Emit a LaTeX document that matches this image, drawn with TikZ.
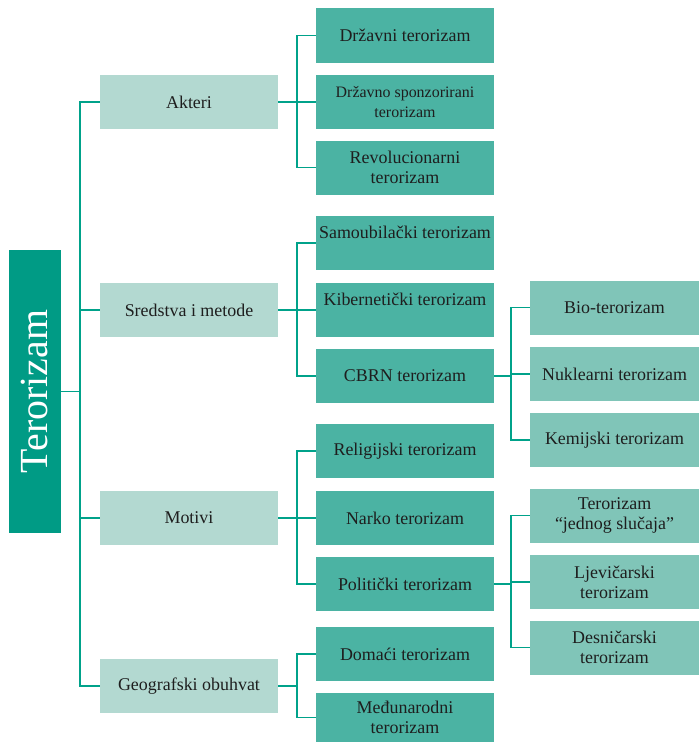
\documentclass[tikz,border=0pt]{standalone}
\usepackage{fontspec}
\setmainfont{Liberation Serif}
\definecolor{rootgreen}{HTML}{009B85}
\definecolor{palegreen}{HTML}{B3D9D1}
\definecolor{midgreen}{HTML}{4BB3A3}
\definecolor{softgreen}{HTML}{80C5B8}
\definecolor{linegreen}{HTML}{00A28A}
\definecolor{ink}{HTML}{1E1E1E}
\begin{document}
\begin{tikzpicture}[x=1bp,y=-1bp,
      box/.style={rectangle,inner sep=2bp,align=center,text=ink,
        font=\fontsize{18}{20}\selectfont},
      main/.style={box,fill=rootgreen,text=white,minimum width=52bp,
        minimum height=283bp,font=\fontsize{40}{44}\selectfont},
      group/.style={box,fill=palegreen,minimum width=178bp,minimum height=54bp},
      kind/.style={box,fill=midgreen,minimum width=178bp,minimum height=54bp},
      subkind/.style={box,fill=softgreen,minimum width=169bp,minimum height=54bp},
      raised/.style={text depth=22bp},
      link/.style={draw=linegreen,line width=1.6bp}]
      \useasboundingbox (0,0) rectangle (699,742);
      % Root
      \node[main] (root) at (35,391.5) {\rotatebox{90}{Terorizam}};
      % Groups
      \node[group] (akteri) at (189,102) {Akteri};
      \node[group] (sredstva) at (189,310) {Sredstva i metode};
      \node[group] (motivi) at (189,518) {Motivi};
      \node[group] (geo) at (189,686) {Geografski obuhvat};
      % Kinds
      \node[kind] (drzavni) at (405,35.5) {Državni terorizam};
      \node[kind,font=\fontsize{16}{20}\selectfont] (sponz) at (405,102) {Državno sponzorirani\\terorizam};
      \node[kind] (revol) at (405,167.5) {Revolucionarni\\terorizam};
      \node[kind,raised] (samoub) at (405,243) {Samoubilački terorizam};
      \node[kind,raised] (kiber) at (405,310) {Kibernetički terorizam};
      \node[kind] (cbrn) at (405,376) {CBRN terorizam};
      \node[kind] (relig) at (405,451) {Religijski terorizam};
      \node[kind] (narko) at (405,518) {Narko terorizam};
      \node[kind] (polit) at (405,584) {Politički terorizam};
      \node[kind] (domaci) at (405,654) {Domaći terorizam};
      \node[kind,minimum height=49bp] (medjun) at (405,717.5) {Međunarodni\\terorizam};
      % Subkinds
      \node[subkind] (bio) at (614.5,307.5) {Bio-terorizam};
      \node[subkind] (nukl) at (614.5,374) {Nuklearni terorizam};
      \node[subkind] (kem) at (614.5,440) {Kemijski terorizam};
      \node[subkind] (jednog) at (614.5,515.5) {Terorizam\\“jednog slučaja”};
      \node[subkind] (ljev) at (614.5,582) {Ljevičarski\\terorizam};
      \node[subkind] (desn) at (614.5,647.5) {Desničarski\\terorizam};
      % Connectors
      \foreach \g in {akteri,sredstva,motivi,geo}
        \draw[link] (root.east) -- +(19,0) |- (\g.west);
      \foreach \k in {drzavni,sponz,revol}
        \draw[link] (akteri.east) -- +(19,0) |- (\k.west);
      \foreach \k in {samoub,kiber,cbrn}
        \draw[link] (sredstva.east) -- +(19,0) |- (\k.west);
      \foreach \k in {relig,narko,polit}
        \draw[link] (motivi.east) -- +(19,0) |- (\k.west);
      \foreach \k in {domaci,medjun}
        \draw[link] (geo.east) -- +(19,0) |- (\k.west);
      \foreach \s in {bio,nukl,kem}
        \draw[link] (cbrn.east) -- +(17,0) |- (\s.west);
      \foreach \s in {jednog,ljev,desn}
        \draw[link] (polit.east) -- +(17,0) |- (\s.west);
    \end{tikzpicture}
\end{document}
